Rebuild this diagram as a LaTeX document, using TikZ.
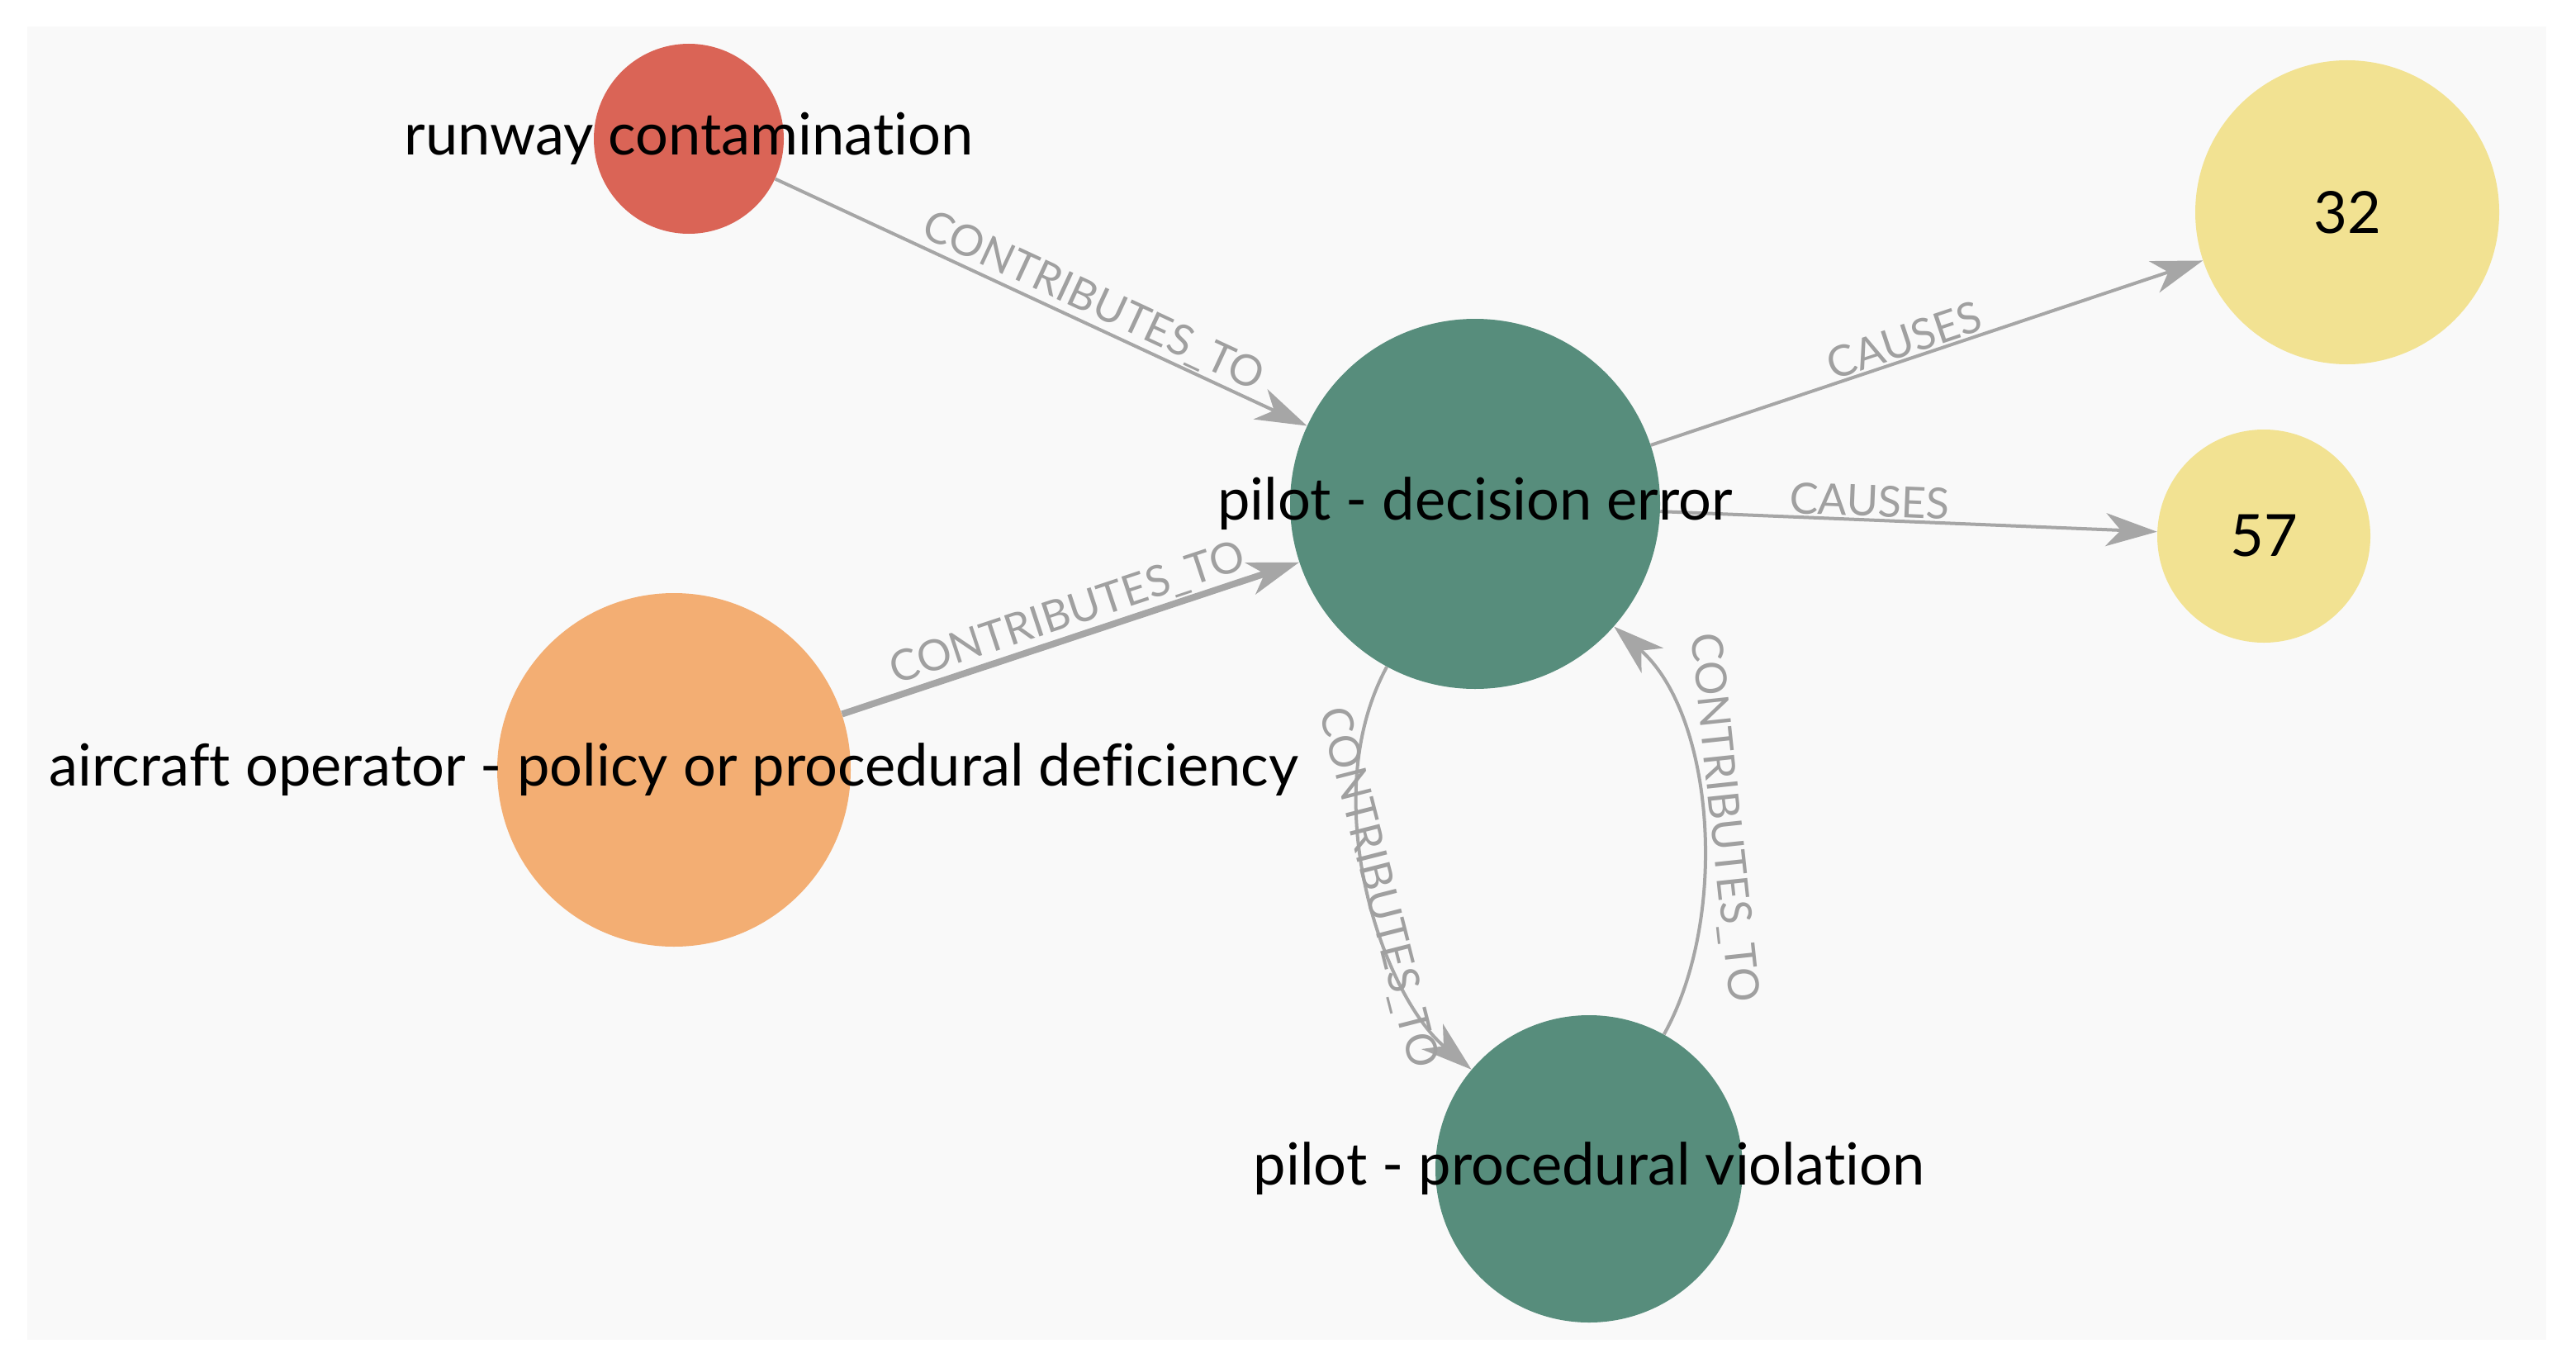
\documentclass[tikz,border=0pt]{standalone}
\usepackage{fontspec}
\setmainfont{Lato}[Ligatures=NoCommon]
\usetikzlibrary{arrows.meta}
\pgfdeclarelayer{bg}
\pgfsetlayers{bg,main}
\definecolor{panel}{RGB}{249,249,249}
\definecolor{hazard}{RGB}{218,100,86}
\definecolor{pilot}{RGB}{87,141,124}
\definecolor{operator}{RGB}{243,174,115}
\definecolor{event}{RGB}{242,226,146}
\definecolor{wire}{RGB}{166,166,166}
\definecolor{wiretext}{RGB}{160,160,160}

\begin{document}
\begin{tikzpicture}[x=1pt, y=-1pt,
        ent/.style={circle, inner sep=0pt, draw=none},
        every label/.style={font=\fontsize{35.2}{42}\selectfont, text=black, inner sep=0pt},
        rel/.style={draw=wire, line width=2pt, -{Stealth[length=31pt, width=20pt, inset=9pt]}},
        rellab/.style={sloped, above, font=\fontsize{26}{30}\selectfont, text=wiretext, inner sep=1pt}]
        \useasboundingbox (0,0) rectangle (1559.5,821.5);
        \node (v0) [ent, fill=hazard, minimum size=115pt, label=center:{runway contamination}] at (417,84) {};
        \node (v1) [ent, fill=pilot, minimum size=224pt, label=center:{pilot - decision error}] at (893,305) {};
        \node (v2) [ent, fill=operator, minimum size=214pt, label=center:{aircraft operator - policy or procedural deficiency}] at (408,466) {};
        \node (v3) [ent, fill=event, minimum size=184pt, label=center:{32}] at (1421,128.5) {};
        \node (v4) [ent, fill=event, minimum size=129pt, label=center:{57}] at (1370.5,324.5) {};
        \node (v5) [ent, fill=pilot, minimum size=186pt, label=center:{pilot - procedural violation}] at (962,707.5) {};
        \begin{pgfonlayer}{bg}
                \fill [panel] (16.5,16) rectangle (1541.5,811);
                \draw (v0) edge [rel] node [rellab, pos=0.58] {CONTRIBUTES\_TO} (v1);
                \draw (v2) edge [rel, line width=4pt] node [rellab, pos=0.51] {CONTRIBUTES\_TO} (v1);
                \draw (v1) edge [rel] node [rellab, pos=0.47] {CAUSES} (v3);
                \draw (v1) edge [rel] node [rellab, pos=0.42] {CAUSES} (v4);
                \draw [rel] (v1) .. controls (796,484) and (837,602) .. (v5) node [rellab, pos=0.5, above=-8pt] {CONTRIBUTES\_TO};
                \draw [rel] (v5) .. controls (1047,555) and (1038,433) .. (v1) node [rellab, pos=0.5] {CONTRIBUTES\_TO};
        \end{pgfonlayer}
\end{tikzpicture}
\end{document}
